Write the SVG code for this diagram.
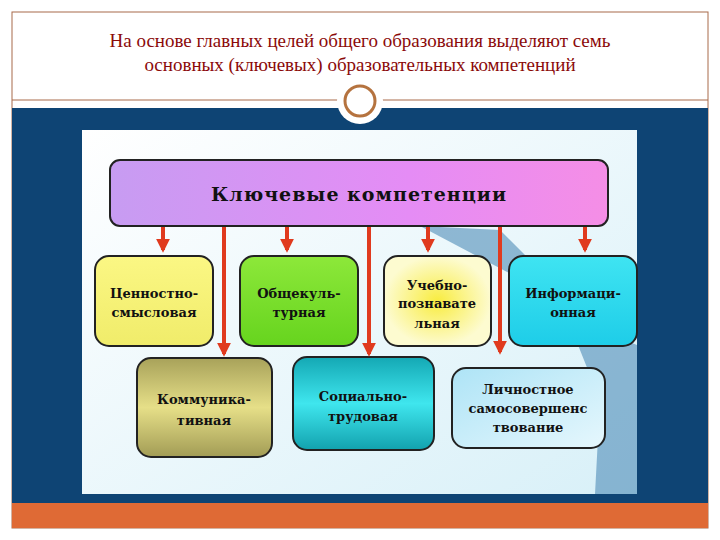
<svg xmlns="http://www.w3.org/2000/svg" width="720" height="540" viewBox="0 0 720 540">
<defs>
<style>
.t{font-family:"DejaVu Serif","Liberation Serif",serif;font-weight:bold;font-size:13px;fill:#111;text-anchor:middle}
.big{font-size:19px;letter-spacing:1px}
.b{stroke:#222;stroke-width:2}
.c{stroke:#e03a1e;stroke-width:4;fill:none}
</style>
<linearGradient id="pur" x1="0" y1="0" x2="1" y2="0"><stop offset="0" stop-color="#c79cf2"/><stop offset="0.6" stop-color="#e58cf5"/><stop offset="1" stop-color="#f58ee6"/></linearGradient>
<linearGradient id="yel" x1="0" y1="0" x2="0" y2="1"><stop offset="0" stop-color="#fbf784"/><stop offset="1" stop-color="#f0ec6a"/></linearGradient>
<linearGradient id="grn" x1="0" y1="0" x2="0" y2="1"><stop offset="0" stop-color="#8de83a"/><stop offset="1" stop-color="#66d41e"/></linearGradient>
<radialGradient id="yel2"><stop offset="0" stop-color="#f8ec40"/><stop offset="1" stop-color="#fdfbd0"/></radialGradient>
<linearGradient id="cy" x1="0" y1="0" x2="0" y2="1"><stop offset="0" stop-color="#3fe4f2"/><stop offset="1" stop-color="#1ecde8"/></linearGradient>
<linearGradient id="ol" x1="0" y1="0" x2="0" y2="1"><stop offset="0" stop-color="#a8a25a"/><stop offset="0.5" stop-color="#e6df88"/><stop offset="1" stop-color="#a29c55"/></linearGradient>
<linearGradient id="tl" x1="0" y1="0" x2="0" y2="1"><stop offset="0" stop-color="#14a8b4"/><stop offset="0.5" stop-color="#3fe6ee"/><stop offset="1" stop-color="#12a2ae"/></linearGradient>
<linearGradient id="lb" x1="0" y1="0" x2="1" y2="1"><stop offset="0" stop-color="#aee4f6"/><stop offset="1" stop-color="#e6f7fd"/></linearGradient>
<linearGradient id="bg" x1="0" y1="0" x2="1" y2="1"><stop offset="0" stop-color="#ffffff"/><stop offset="1" stop-color="#d8f0f8"/></linearGradient>
<marker id="ah" viewBox="0 0 10 10" refX="8" refY="5" markerWidth="3.5" markerHeight="3.5" orient="auto"><path d="M0,0L10,5L0,10z" fill="#e03a1e"/></marker>
</defs>
<rect width="720" height="540" fill="#fff"/>
<rect x="12" y="12" width="696" height="516" fill="#fff" stroke="#a86a4a" stroke-width="1"/>
<line x1="12" y1="100" x2="708" y2="100" stroke="#a86a4a" stroke-width="1"/>
<rect x="12" y="108" width="696" height="395" fill="#0e4474"/>
<rect x="12" y="503" width="696" height="25" fill="#df6a35"/>
<circle cx="360" cy="101" r="23" fill="#fff"/>
<circle cx="360" cy="101" r="15" fill="none" stroke="#b5733f" stroke-width="3"/>
<g font-family="Liberation Serif,serif" font-size="19" fill="#8b0a0a" text-anchor="middle">
<text x="360" y="47">На основе главных целей общего образования выделяют семь</text>
<text x="360" y="71">основных (ключевых) образовательных компетенций</text>
</g>
<rect x="82" y="130" width="555" height="364" fill="url(#bg)"/>
<path d="M420,226 L500,230 L600,330 L637,345 L637,494 L595,494 L600,400 L560,300 Z" fill="#4f8cb8" opacity="0.6"/>
<g id="top"><rect class="b" x="110" y="160" width="498" height="66" rx="10" fill="url(#pur)"/><text class="t big" x="359" y="201">Ключевые компетенции</text></g>
<g id="n1"><rect class="b" x="95" y="256" width="118" height="90" rx="14" fill="url(#yel)"/><text class="t" x="154" y="298">Ценностно-</text><text class="t" x="154" y="317">смысловая</text></g>
<g id="n2"><rect class="b" x="240" y="256" width="118" height="90" rx="14" fill="url(#grn)"/><text class="t" x="299" y="298">Общекуль-</text><text class="t" x="299" y="317">турная</text></g>
<g id="n3"><rect class="b" x="384" y="256" width="107" height="90" rx="14" fill="url(#yel2)"/><text class="t" x="437" y="290">Учебно-</text><text class="t" x="437" y="308">познавате</text><text class="t" x="437" y="328">льная</text></g>
<g id="n4"><rect class="b" x="509" y="256" width="128" height="90" rx="14" fill="url(#cy)"/><text class="t" x="573" y="298">Информаци-</text><text class="t" x="573" y="317">онная</text></g>
<g id="n5"><rect class="b" x="137" y="358" width="135" height="99" rx="14" fill="url(#ol)"/><text class="t" x="204" y="404">Коммуника-</text><text class="t" x="204" y="425">тивная</text></g>
<g id="n6"><rect class="b" x="293" y="357" width="141" height="93" rx="14" fill="url(#tl)"/><text class="t" x="363" y="401">Социально-</text><text class="t" x="363" y="421">трудовая</text></g>
<g id="n7"><rect class="b" x="452" y="368" width="153" height="80" rx="14" fill="url(#lb)"/><text class="t" x="528" y="394">Личностное</text><text class="t" x="528" y="413">самосовершенс</text><text class="t" x="528" y="432">твование</text></g>
<g id="connectors">
<line class="c" x1="163" y1="227" x2="163" y2="250" marker-end="url(#ah)"/>
<line class="c" x1="287" y1="227" x2="287" y2="250" marker-end="url(#ah)"/>
<line class="c" x1="428" y1="227" x2="428" y2="250" marker-end="url(#ah)"/>
<line class="c" x1="585" y1="227" x2="585" y2="250" marker-end="url(#ah)"/>
<line class="c" x1="224" y1="227" x2="224" y2="354" marker-end="url(#ah)"/>
<line class="c" x1="369" y1="227" x2="369" y2="354" marker-end="url(#ah)"/>
<line class="c" x1="500" y1="227" x2="500" y2="352" marker-end="url(#ah)"/>
</g>
</svg>
